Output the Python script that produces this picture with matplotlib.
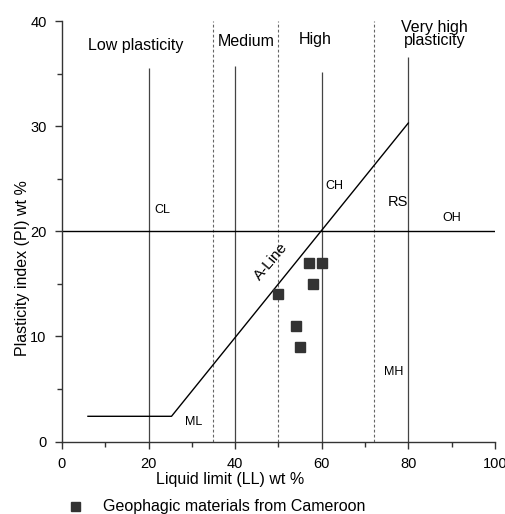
import matplotlib
matplotlib.use("Agg")
import matplotlib.pyplot as plt

plt.rcParams['font.family'] = ['Liberation Sans', 'DejaVu Sans']

# samples
ll = [57, 60, 58, 50, 54, 55]
pi = [17, 17, 15, 14, 11, 9]

# A-line
aline_ll = [6, 25.3, 80]
aline_pi = [2.4, 2.4, 30.3]

# boundary lines
solid_x = [20, 40, 60, 80]
solid_top = [35.5, 35.7, 35.2, 36.6]
dashed_x = [35, 50, 72]

fig = plt.figure(figsize=(5.06, 5.14), dpi=100)
ax = fig.add_axes([0.1225, 0.141, 0.8555, 0.818])

ax.vlines(solid_x, 0, solid_top, colors='#444444', linewidth=0.9)
ax.vlines(dashed_x, 0, 40, colors='#666666', linewidth=0.8, linestyles=(0, (2.5, 2)))
ax.axhline(20, color='black', linewidth=1.0)
ax.plot(aline_ll, aline_pi, color='black', linewidth=1.0)

ax.plot(ll, pi, linestyle='none', marker='s', markersize=7.2,
        color='#333333', label='Geophagic materials from Cameroon')

# zone labels
ax.text(17, 37.7, 'Low plasticity', fontsize=11.5, ha='center', va='center')
ax.text(42.5, 38.1, 'Medium', fontsize=11.5, ha='center', va='center')
ax.text(58.6, 38.2, 'High', fontsize=11.5, ha='center', va='center')
ax.text(86.1, 38.8, 'Very high\nplasticity', fontsize=11.5, ha='center',
        va='center', linespacing=0.85)

ax.text(23.2, 22.0, 'CL', fontsize=9, ha='center', va='center')
ax.text(63, 24.3, 'CH', fontsize=9, ha='center', va='center')
ax.text(77.6, 22.8, 'RS', fontsize=10.5, ha='center', va='center')
ax.text(90, 21.3, 'OH', fontsize=9, ha='center', va='center')
ax.text(76.7, 6.6, 'MH', fontsize=9, ha='center', va='center')
ax.text(30.5, 1.9, 'ML', fontsize=9, ha='center', va='center')
ax.text(48.4, 17.1, 'A-Line', fontsize=11, ha='center', va='center',
        rotation=50)

ax.set_xlim(0, 100)
ax.set_ylim(0, 40)
ax.set_xticks([0, 20, 40, 60, 80, 100])
ax.set_xticks([10, 30, 50, 70, 90], minor=True)
ax.set_yticks([0, 10, 20, 30, 40])
ax.set_yticks([5, 15, 25, 35], minor=True)
ax.tick_params(which='major', length=5, width=1, direction='out', pad=6,
               labelsize=10.5, color='#333333')
ax.tick_params(which='minor', length=3.5, width=1, direction='out', color='#333333')

for s in ['top', 'right']:
    ax.spines[s].set_visible(False)
for s in ['left', 'bottom']:
    ax.spines[s].set_color('#333333')
    ax.spines[s].set_linewidth(1.0)

ax.set_xlabel('Liquid limit (LL) wt %', fontsize=11.5)
ax.xaxis.set_label_coords(0.388, -0.072)
ax.set_ylabel('Plasticity index (PI) wt %', fontsize=11.5)
ax.yaxis.set_label_coords(-0.075, 0.413)

ax.legend(loc='center left', bbox_to_anchor=(0.105, 0.014),
          bbox_transform=fig.transFigure, frameon=False, fontsize=11.5,
          handlelength=1.0, handletextpad=1.2, markerscale=0.9)

fig.savefig('out.png', dpi=100)
